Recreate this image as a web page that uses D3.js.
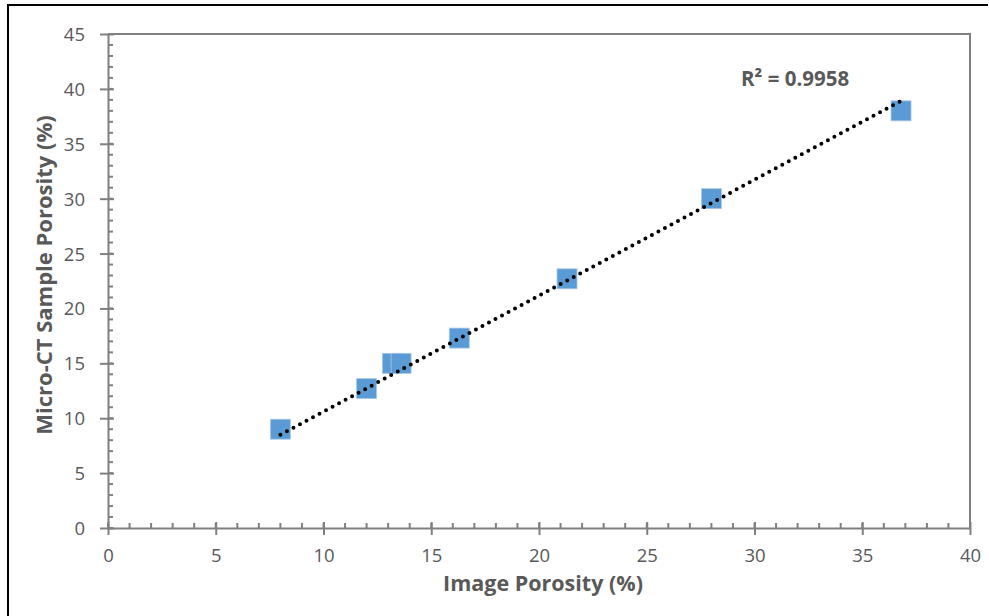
<!DOCTYPE html>
<html>
<head>
<meta charset="utf-8">
<script src="https://cdn.jsdelivr.net/npm/d3@7"></script>
<style>
body{margin:0;background:#fff;}
svg{display:block;font-family:"Open Sans",sans-serif;}
</style>
</head>
<body>
<svg id="chart" width="989" height="616"></svg>
<script>
// image porosity vs micro-CT sample porosity
var imagePorosity = [8.0, 12.0, 13.2, 13.6, 16.3, 21.3, 28.0, 36.8];
var samplePorosity = [9.0, 12.7, 15.0, 15.0, 17.3, 22.7, 30.0, 38.0];
//trendline ends as drawn on the picture
var trendX = [8.0, 36.8];
var trendY = [8.5, 38.9];
var xTicks = [0, 5, 10, 15, 20, 25, 30, 35, 40];
var yTicks = [0, 5, 10, 15, 20, 25, 30, 35, 40, 45];
var rSquaredLabel = 'R² = 0.9958';

var svg = d3.select('#chart');
var margin = {left: 108, right: 19, top: 34, bottom: 88};
var W = 989, H = 616;
var gray = '#808080', txt = '#595959';

var x = d3.scaleLinear().domain([0, 40]).range([margin.left, W - margin.right]);
var y = d3.scaleLinear().domain([0, 45]).range([H - margin.bottom, margin.top]);

//outer frame, only top & left show
svg.append('path')
	.attr('d', 'M8,616V5H988')
	.attr('fill', 'none')
	.attr('stroke', '#000')
	.attr('stroke-width', 2);

//plot area frame (top & right)
svg.append('path')
	.attr('d', 'M' + x(0) + ',' + y(45) + 'H' + x(40) + 'V' + y(0))
	.attr('fill', 'none')
	.attr('stroke', gray)
	.attr('stroke-width', 2);

//minor ticks every 1 unit, pointing inwards
var g = svg.append('g');
g.selectAll('.xminor').data(d3.range(0, 41)).enter().append('line')
	.attr('x1', function(d){ return x(d); }).attr('x2', function(d){ return x(d); })
	.attr('y1', y(0)).attr('y2', y(0) - 5)
	.attr('stroke', gray).attr('stroke-width', 2);
g.selectAll('.yminor').data(d3.range(0, 46)).enter().append('line')
	.attr('y1', function(d){ return y(d); }).attr('y2', function(d){ return y(d); })
	.attr('x1', x(0)).attr('x2', x(0) + 5)
	.attr('stroke', gray).attr('stroke-width', 2);

//axes, major ticks cross the axis line
var xAxis = svg.append('g')
	.attr('transform', 'translate(0,' + y(0) + ')')
	.call(d3.axisBottom(x).tickValues(xTicks).tickSizeInner(7).tickSizeOuter(0).tickPadding(14));
xAxis.selectAll('.tick line').attr('y1', -6);
var yAxis = svg.append('g')
	.attr('transform', 'translate(' + x(0) + ',0)')
	.call(d3.axisLeft(y).tickValues(yTicks).tickSizeInner(8).tickSizeOuter(0).tickPadding(15));
yAxis.selectAll('.tick line').attr('x1', 6);
[xAxis, yAxis].forEach(function(a){
	a.select('.domain').attr('stroke', gray).attr('stroke-width', 2);
	a.selectAll('.tick line').attr('stroke', gray).attr('stroke-width', 2);
	a.selectAll('.tick text').attr('fill', txt).attr('font-size', 18.5).attr('font-family', '"Open Sans",sans-serif');
});
yAxis.selectAll('.tick text').attr('dy', '0.35em');

//points
svg.selectAll('.pt').data(imagePorosity).enter().append('rect')
	.attr('x', function(d){ return x(d) - 10; })
	.attr('y', function(d, i){ return y(samplePorosity[i]) - 10; })
	.attr('width', 20).attr('height', 20)
	.attr('fill', '#5B9BD5')
	.attr('stroke', '#a9c8ea').attr('stroke-width', 0.8);

//dotted linear trendline
svg.append('line')
	.attr('x1', x(trendX[0])).attr('y1', y(trendY[0]))
	.attr('x2', x(trendX[1])).attr('y2', y(trendY[1]))
	.attr('stroke', '#000').attr('stroke-width', 4)
	.attr('stroke-linecap', 'round')
	.attr('stroke-dasharray', '0 7.4');

svg.append('text')
	.attr('x', 741).attr('y', 86)
	.attr('fill', txt).attr('font-size', 20.5).attr('font-weight', 'bold')
	.text(rSquaredLabel);

//axis titles
svg.append('text')
	.attr('x', 543).attr('y', 591)
	.attr('text-anchor', 'middle')
	.attr('fill', txt).attr('font-size', 21.5).attr('font-weight', 'bold')
	.text('Image Porosity (%)');
svg.append('text')
	.attr('transform', 'translate(52,275) rotate(-90)')
	.attr('text-anchor', 'middle')
	.attr('fill', txt).attr('font-size', 22).attr('font-weight', 'bold')
	.text('Micro-CT Sample Porosity (%)');
</script>
</body>
</html>
